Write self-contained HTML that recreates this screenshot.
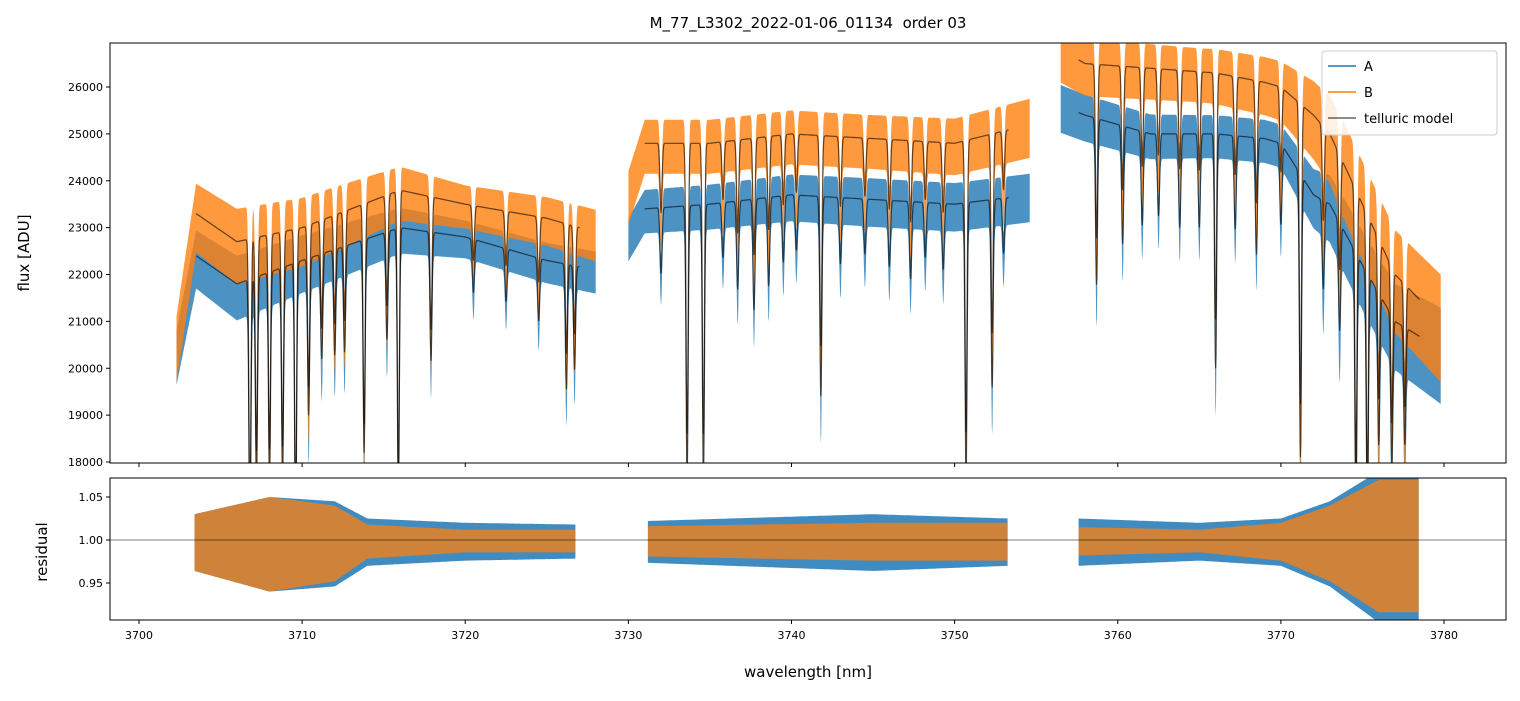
<!DOCTYPE html>
<html><head><meta charset="utf-8"><style>
body{margin:0;background:#fff;font-family:"Liberation Sans","DejaVu Sans",sans-serif;}
svg text{font-family:"DejaVu Sans","Liberation Sans",sans-serif;}
</style></head><body>
<svg id="chart" width="1520" height="696" xmlns="http://www.w3.org/2000/svg">
<defs>
<clipPath id="clipTop"><rect x="110" y="43" width="1396" height="420"/></clipPath>
<clipPath id="clipBot"><rect x="110" y="478" width="1396" height="142"/></clipPath>
</defs>
<text x="808" y="28" font-size="15" text-anchor="middle" xml:space="preserve">M_77_L3302_2022-01-06_01134  order 03</text>
<g id="gtop" clip-path="url(#clipTop)"></g>
<g id="gbot" clip-path="url(#clipBot)"></g>
<rect x="110" y="43" width="1396" height="420" fill="none" stroke="#000" stroke-width="1"/>
<rect x="110" y="478" width="1396" height="142" fill="none" stroke="#000" stroke-width="1"/>
<g id="axes"></g>
<text transform="translate(29,253) rotate(-90)" font-size="15" text-anchor="middle">flux [ADU]</text>
<text transform="translate(47,552) rotate(-90)" font-size="15" text-anchor="middle">residual</text>
<text x="808" y="677" font-size="15" text-anchor="middle">wavelength [nm]</text>
<g>
<rect x="1322" y="51" width="175" height="84" fill="#fff" fill-opacity="0.85" stroke="#ccc" rx="3"/>
<line x1="1328" y1="66" x2="1356" y2="66" stroke="#1f77b4" stroke-width="1.5"/>
<text x="1364" y="71" font-size="13">A</text>
<line x1="1328" y1="92" x2="1356" y2="92" stroke="#ff7f0e" stroke-width="1.5"/>
<text x="1364" y="97" font-size="13">B</text>
<line x1="1328" y1="118" x2="1356" y2="118" stroke="#000" stroke-opacity="0.6" stroke-width="1.5"/>
<text x="1364" y="123" font-size="13">telluric model</text>
</g>
</svg>
<script>
const xTicks=[3700,3710,3720,3730,3740,3750,3760,3770,3780];
const yTicks=[18000,19000,20000,21000,22000,23000,24000,25000,26000];
const rTicks=[0.95,1.00,1.05];
const segments=[[3703.5,3727.0],[3731.0,3753.3],[3757.6,3778.5]];
const dataSegments=[[3702.3,3728.0],[3730.0,3754.6],[3756.5,3779.8]];
const resSegments=[[3703.4,3726.8],[3731.2,3753.3],[3757.6,3778.5]];
const contKnotsX=[3702.3,3703.5,3706,3710,3716,3720,3725,3728,3730,3731,3735,3740,3745,3750,3754.6,3756.5,3758,3762,3766,3769,3770,3772,3773,3775,3777,3779.8];
const contA=[20300,22400,21800,22300,23000,22800,22300,22100,22800,23400,23500,23700,23600,23500,23700,25600,25400,25000,25000,24900,24800,23700,23500,22200,21000,20400];
const contB=[20500,23300,22700,23000,23800,23500,23200,22900,23700,24800,24800,25000,24900,24800,25200,26800,26500,26400,26300,26100,26000,25400,25000,23500,22000,21000];
const lineCenters=[3706.8,3707.2,3708.0,3708.8,3709.6,3710.4,3711.2,3712.0,3712.6,3713.8,3715.2,3715.9,3717.9,3720.5,3722.5,3724.5,3726.2,3726.7,3732.0,3733.6,3734.6,3735.8,3736.7,3737.7,3738.6,3739.5,3740.3,3741.8,3743.0,3744.5,3746.0,3747.3,3748.2,3749.3,3750.7,3752.3,3753.0,3758.7,3760.3,3761.5,3762.5,3763.8,3765.0,3766.0,3767.2,3768.5,3770.0,3771.2,3772.6,3773.6,3774.6,3775.3,3776.0,3776.8,3777.6];
const lineDepths=[0.25,0.2,0.2,0.2,0.25,0.15,0.1,0.1,0.1,0.2,0.1,0.25,0.12,0.05,0.05,0.06,0.12,0.1,0.06,0.25,0.25,0.05,0.08,0.1,0.08,0.06,0.05,0.18,0.06,0.05,0.06,0.07,0.05,0.06,0.25,0.17,0.05,0.14,0.1,0.08,0.07,0.08,0.08,0.2,0.08,0.1,0.07,0.25,0.08,0.1,0.25,0.25,0.15,0.15,0.12];
const noiseKnotsX=[3702,3706,3712,3720,3730,3745,3755,3765,3770,3774,3780];
const noiseA=[500,600,500,350,400,450,450,400,400,700,900];
const noiseB=[600,700,600,400,500,500,550,500,550,900,1000];
const resKnotsX=[3703.4,3708,3712,3714,3720,3726.8,3731,3745,3753.3,3757.6,3765,3770,3773,3776,3778.5];
const resA=[0.03,0.05,0.045,0.025,0.02,0.018,0.022,0.03,0.025,0.025,0.02,0.025,0.045,0.08,0.08];
const resB=[0.03,0.05,0.04,0.018,0.012,0.012,0.016,0.02,0.02,0.015,0.012,0.02,0.04,0.07,0.07];

const NS='http://www.w3.org/2000/svg';
const X=v=>139+(v-3700)*16.3125;
const Y=v=>87+(26000-v)*0.046875;
const R=v=>540-(v-1)*860;
function interp(xs,ys,x){if(x<=xs[0])return ys[0];for(let i=1;i<xs.length;i++){if(x<=xs[i]){const t=(x-xs[i-1])/(xs[i]-xs[i-1]);return ys[i-1]+t*(ys[i]-ys[i-1]);}}return ys[ys.length-1];}
function absorb(x){let f=1;for(let i=0;i<lineCenters.length;i++){const d=(x-lineCenters[i])/0.09;if(Math.abs(d)<5)f*=1-lineDepths[i]*Math.exp(-d*d);}return f;}
function el(tag,attrs,parent){const e=document.createElementNS(NS,tag);for(const k in attrs)e.setAttribute(k,attrs[k]);parent.appendChild(e);return e;}
const gTop=document.getElementById('gtop'),gBot=document.getElementById('gbot'),axes=document.getElementById('axes');
function band(seg,cont,noise,color,name){
  const up=[],lo=[];
  for(let x=seg[0];x<=seg[1];x+=0.02){const a=absorb(x);const m=interp(contKnotsX,cont,x)*a;const n=interp(noiseKnotsX,noise,x);up.push(X(x).toFixed(1)+','+Y(m+n).toFixed(1));lo.push(X(x).toFixed(1)+','+Y(m-n*1.3-(1-a)*2500).toFixed(1));}
  const p=el('polygon',{points:up.concat(lo.reverse()).join(' '),fill:color,'fill-opacity':0.8},gTop);
  
  
}
function model(seg,cont,name){
  const pts=[];for(let x=seg[0];x<=seg[1];x+=0.02){pts.push(X(x).toFixed(1)+','+Y(interp(contKnotsX,cont,x)*absorb(x)).toFixed(1));}
  const p=el('polyline',{points:pts.join(' '),fill:'none',stroke:'#000','stroke-opacity':0.6,'stroke-width':1.2},gTop);
  
  
}
dataSegments.forEach((s,i)=>band(s,contA,noiseA,'#1f77b4','spectrum-a-seg'+i));
dataSegments.forEach((s,i)=>band(s,contB,noiseB,'#ff7f0e','spectrum-b-seg'+i));
segments.forEach((s,i)=>{model(s,contA,'model-a-seg'+i);model(s,contB,'model-b-seg'+i);});
function rband(seg,arr,color,op,name){
  const up=[],lo=[];
  for(let x=seg[0];x<=seg[1];x+=0.05){const w=interp(resKnotsX,arr,x);up.push(X(x).toFixed(1)+','+R(1+w).toFixed(1));lo.push(X(x).toFixed(1)+','+R(1-w*1.2).toFixed(1));}
  const p=el('polygon',{points:up.concat(lo.reverse()).join(' '),fill:color,'fill-opacity':op},gBot);
  
  
}
resSegments.forEach((s,i)=>rband(s,resA,'#1f77b4',0.85,'residual-a-seg'+i));
resSegments.forEach((s,i)=>rband(s,resB,'#ff7f0e',0.75,'residual-b-seg'+i));
const ref=el('line',{x1:110,x2:1506,y1:R(1),y2:R(1),stroke:'#000','stroke-width':0.6},gBot);


xTicks.forEach(v=>{
  el('line',{x1:X(v),x2:X(v),y1:463,y2:467,stroke:'#000'},axes);
  el('line',{x1:X(v),x2:X(v),y1:620,y2:624,stroke:'#000'},axes);
  const t=el('text',{x:X(v),y:639,'font-size':11,'text-anchor':'middle'},axes);t.textContent=v;
  
  
});
yTicks.forEach(v=>{
  el('line',{x1:106,x2:110,y1:Y(v),y2:Y(v),stroke:'#000'},axes);
  const t=el('text',{x:103,y:Y(v)+4,'font-size':11,'text-anchor':'end'},axes);t.textContent=v;
  
  
});
rTicks.forEach(v=>{
  el('line',{x1:106,x2:110,y1:R(v),y2:R(v),stroke:'#000'},axes);
  const t=el('text',{x:103,y:R(v)+4,'font-size':11,'text-anchor':'end'},axes);t.textContent=v.toFixed(2);
  
  
});
</script>
</body></html>
